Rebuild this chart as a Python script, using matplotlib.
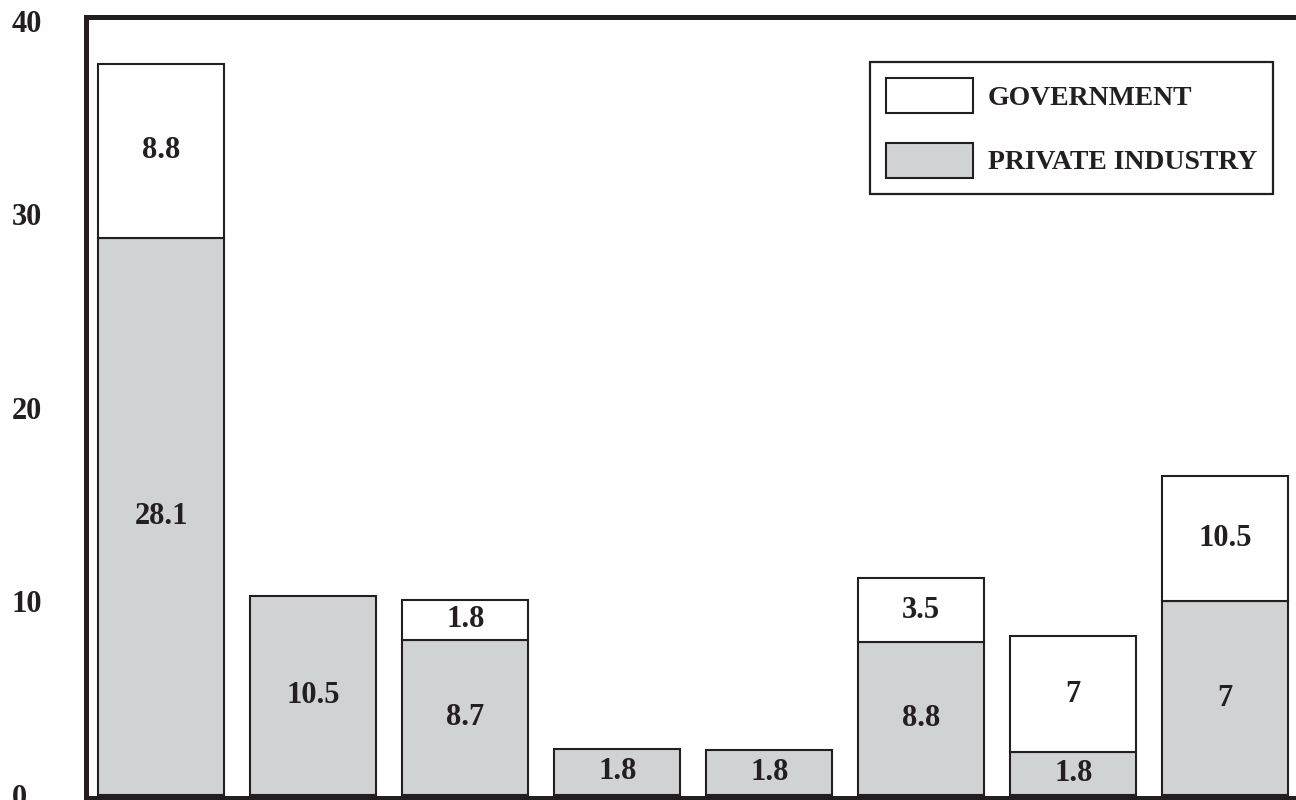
import matplotlib
matplotlib.use('Agg')
import matplotlib.pyplot as plt
import numpy as np

# bar heights (the printed numbers differ from the heights)
private = [28.8, 10.3, 8.0, 2.4, 2.3, 7.9, 2.2, 10.0]
government = [9.0, 0, 2.1, 0, 0, 3.3, 6.0, 6.5]
private_labels = ['28.1', '10.5', '8.7', '1.8', '1.8', '8.8', '1.8', '7']
government_labels = ['8.8', '', '1.8', '', '', '3.5', '7', '10.5']
yticks = [0, 10, 20, 30, 40]

ink = '#231f20'
grey = '#d1d2d4'
plt.rcParams['font.family'] = ['Liberation Serif', 'DejaVu Serif']
plt.rcParams['font.weight'] = 'bold'

fig = plt.figure(figsize=(12.96, 8), dpi=100)
ax = fig.add_axes([86/1296, 2.5/800, 1224/1296, 781/800])

x = np.arange(len(private))
w = 0.83
b1 = ax.bar(x, private, w, color=grey, edgecolor=ink, linewidth=1.5,
            label='PRIVATE INDUSTRY', zorder=2)
b2 = ax.bar(x, government, w, bottom=private, color='white', edgecolor=ink,
            linewidth=1.5, label='GOVERNMENT', zorder=2)
# no government box where the value is zero
for r, v in zip(b2, government):
    if v == 0:
        r.set_visible(False)

ax.bar_label(b1, labels=private_labels, label_type='center', fontsize=22,
             fontweight='bold', color=ink)
ax.bar_label(b2, labels=government_labels, label_type='center', fontsize=22,
             fontweight='bold', color=ink)

ax.set_xlim(-0.495, 7.558)
ax.set_ylim(-0.13, 40.23)
ax.set_xticks([])
ax.set_yticks(yticks)
ax.tick_params(axis='y', length=0, pad=53.5, labelsize=22, labelcolor=ink)
for t in ax.get_yticklabels():
    t.set_horizontalalignment('left')
    t.set_fontweight('bold')
for s in ax.spines.values():
    s.set_linewidth(3.6)
    s.set_color(ink)

h, l = ax.get_legend_handles_labels()
leg = ax.legend(h[::-1], l[::-1], loc='upper left', bbox_to_anchor=(0.6405, 0.942),
                borderaxespad=0, fontsize=20, fancybox=False, frameon=True,
                framealpha=1, edgecolor=ink, handlelength=3.13, handleheight=1.56,
                handletextpad=0.54, labelspacing=1.07, borderpad=0.58)
leg.get_frame().set_linewidth(1.6)
for t in leg.get_texts():
    t.set_color(ink)

fig.savefig('out.png', dpi=100)
